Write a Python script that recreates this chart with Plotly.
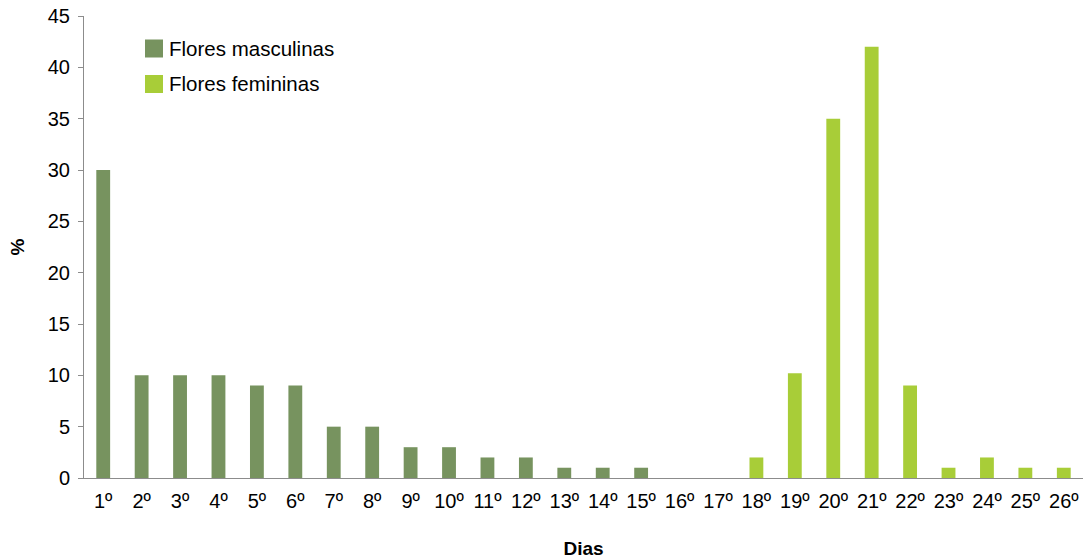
import plotly.graph_objects as go

# Days of observation and the share (%) of flowers opening on each day
dias = [f"{d}º" for d in range(1, 27)]
dias_masc = dias[:15]
masculinas = [30, 10, 10, 10, 9, 9, 5, 5, 3, 3, 2, 2, 1, 1, 1]
dias_fem = dias[17:]
femininas = [2, 10.2, 35, 42, 9, 1, 2, 1, 1]

cor_masc = "#77935F"
cor_fem = "#A8CD38"
fonte = "Liberation Sans, Arial, sans-serif"

fig = go.Figure()
fig.add_trace(go.Bar(x=dias_masc, y=masculinas, name="Flores masculinas",
                     marker=dict(color=cor_masc, line=dict(width=0)), showlegend=False))
fig.add_trace(go.Bar(x=dias_fem, y=femininas, name="Flores femininas",
                     marker=dict(color=cor_fem, line=dict(width=0)), showlegend=False))

fig.update_layout(
    width=1085, height=559,
    margin=dict(l=84, r=2, t=16, b=81),
    paper_bgcolor="white", plot_bgcolor="white",
    barmode="overlay", bargap=0.64,
    font=dict(family=fonte, size=20, color="#000000"),
    xaxis=dict(
        type="category", categoryorder="array", categoryarray=dias,
        range=[-0.5, 25.5], showline=True, linecolor="#8C8C8C", linewidth=1,
        ticks="", showgrid=False, zeroline=False,
        tickfont=dict(size=20), ticklabelstandoff=5,
        title=dict(text="<b>Dias</b>", font=dict(size=19), standoff=30),
    ),
    yaxis=dict(
        range=[0, 45], dtick=5, showline=True, linecolor="#8C8C8C", linewidth=1,
        ticks="outside", ticklen=5, tickcolor="#8C8C8C",
        showgrid=False, zeroline=False, tickfont=dict(size=20),
        ticklabelstandoff=4,
        title=dict(text="<b>%</b>", font=dict(size=19), standoff=18),
    ),
)

# Legend: coloured squares with their labels
legenda = [("Flores masculinas", cor_masc, 48.5), ("Flores femininas", cor_fem, 84)]
for texto, cor, ypix in legenda:
    y_top = 1 - (ypix - 9 - 16) / 462
    y_bot = 1 - (ypix + 9 - 16) / 462
    fig.add_shape(type="rect", xref="paper", yref="paper",
                  x0=(145 - 84) / 999, x1=(163 - 84) / 999, y0=y_bot, y1=y_top,
                  fillcolor=cor, line=dict(width=0))
    fig.add_annotation(xref="paper", yref="paper", x=(167 - 84) / 999,
                       y=(y_top + y_bot) / 2, text=texto, showarrow=False,
                       xanchor="left", yanchor="middle", font=dict(size=20.5))

fig.write_html("out.html")
